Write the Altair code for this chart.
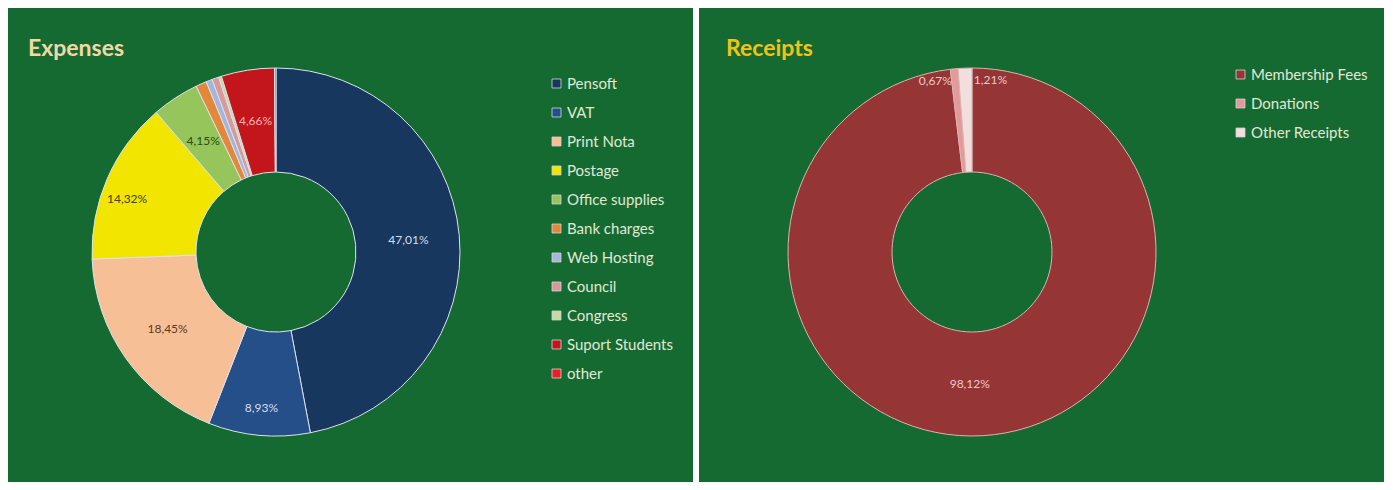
import altair as alt
import pandas as pd

# ---- data ----
exp_cats = ["Pensoft", "VAT", "Print Nota", "Postage", "Office supplies", "Bank charges",
            "Web Hosting", "Council", "Congress", "Suport Students", "other"]
exp_vals = [47.01, 8.93, 18.45, 14.32, 4.15, 0.95, 0.55, 0.60, 0.25, 4.66, 0.13]
exp_labeled = ["Pensoft", "VAT", "Print Nota", "Postage", "Office supplies", "Suport Students"]

rec_cats = ["Membership Fees", "Donations", "Other Receipts"]
rec_vals = [98.12, 0.67, 1.21]

# ---- styles ----
exp_colors = ["#17375E", "#254F88", "#F7BF95", "#F2E500", "#95C55B", "#E5873A",
              "#A5B6DC", "#D89A98", "#C5D9A0", "#C3151C", "#EE1C25"]
exp_label_colors = ["#D5DCEA", "#D5DCEA", "#5B3A1E", "#3F3F10", "#2D4A14", "#E5873A",
                    "#A5B6DC", "#D89A98", "#C5D9A0", "#F4B6B6", "#EE1C25"]
rec_colors = ["#953536", "#E29A9A", "#F3DEDE"]
rec_label_colors = ["#F0C8C8", "#F0C8C8", "#F0C8C8"]

BG = "#156A31"
FONT = "Lato"
W, H = 685, 474


def fmt(v):
    return f"{v:.2f}".replace(".", ",") + "%"


def make_df(cats, vals, labeled):
    return pd.DataFrame({
        "cat": cats,
        "val": vals,
        "idx": list(range(len(cats))),
        "label": [fmt(v) if c in labeled else "" for c, v in zip(cats, vals)],
    })


def arcs(df, cats, colors, cx, cy, stroke, lx, ly):
    return alt.Chart(df).mark_arc(outerRadius=184, innerRadius=80, stroke=stroke,
                                  strokeWidth=1).encode(
        theta=alt.Theta("val:Q", stack=True),
        order=alt.Order("idx:Q"),
        color=alt.Color("cat:N", scale=alt.Scale(domain=cats, range=colors),
                        legend=alt.Legend(title=None, orient="none", legendX=lx, legendY=ly,
                                          labelColor="#E0E8D4", labelFontSize=15, labelFont=FONT,
                                          symbolType="square", symbolSize=80,
                                          symbolStrokeColor="#D8D8D8", symbolStrokeWidth=0.8,
                                          rowPadding=13, labelOffset=3)),
        x=alt.value(cx), y=alt.value(cy),
    )


def labels(df, cats, label_colors, cx, cy, which, radius, dx=0, dy=0):
    return alt.Chart(df).transform_calculate(
        shown="indexof(" + str(which) + ", datum.cat) >= 0 ? datum.label : ''"
    ).mark_text(radius=radius, fontSize=12, font=FONT, dx=dx, dy=dy).encode(
        theta=alt.Theta("val:Q", stack=True),
        order=alt.Order("idx:Q"),
        text="shown:N",
        color=alt.Color("cat:N", scale=alt.Scale(domain=cats, range=label_colors), legend=None),
        x=alt.value(cx), y=alt.value(cy),
    )


def title(text, color, tx):
    return alt.Chart(pd.DataFrame({"t": [text]})).mark_text(
        align="left", baseline="alphabetic", fontSize=23, fontWeight="bold", font=FONT,
        color=color).encode(text="t:N", x=alt.value(tx), y=alt.value(48))


edf = make_df(exp_cats, exp_vals, exp_labeled)
ecx, ecy = 268, 244
exp_panel = alt.layer(
    arcs(edf, exp_cats, exp_colors, ecx, ecy, "#DCE3EE", 541, 68),
    labels(edf, exp_cats, exp_label_colors, ecx, ecy,
           ["Pensoft", "Print Nota", "Office supplies", "Suport Students"], 133),
    labels(edf, exp_cats, exp_label_colors, ecx, ecy, ["VAT"], 157),
    labels(edf, exp_cats, exp_label_colors, ecx, ecy, ["Postage"], 133, dx=-27),
    title("Expenses", "#F2D8A6", 20),
).resolve_scale(color="independent").properties(width=W, height=H)

rdf = make_df(rec_cats, rec_vals, rec_cats)
rcx, rcy = 273, 244
rec_panel = alt.layer(
    arcs(rdf, rec_cats, rec_colors, rcx, rcy, "#D9B4B0", 534, 59),
    labels(rdf, rec_cats, rec_label_colors, rcx, rcy, ["Membership Fees"], 132, dx=-10),
    labels(rdf, rec_cats, rec_label_colors, rcx, rcy, ["Donations"], 172, dx=-20),
    labels(rdf, rec_cats, rec_label_colors, rcx, rcy, ["Other Receipts"], 172, dx=25),
    title("Receipts", "#F0C21A", 27),
).resolve_scale(color="independent").properties(width=W, height=H)

chart = alt.hconcat(exp_panel, rec_panel, spacing=6).resolve_scale(
    color="independent").properties(background="white", padding=0).configure(
    font=FONT).configure_view(fill=BG, stroke=None)

chart.save("out.html", embed_options={"renderer": "svg", "actions": False})
